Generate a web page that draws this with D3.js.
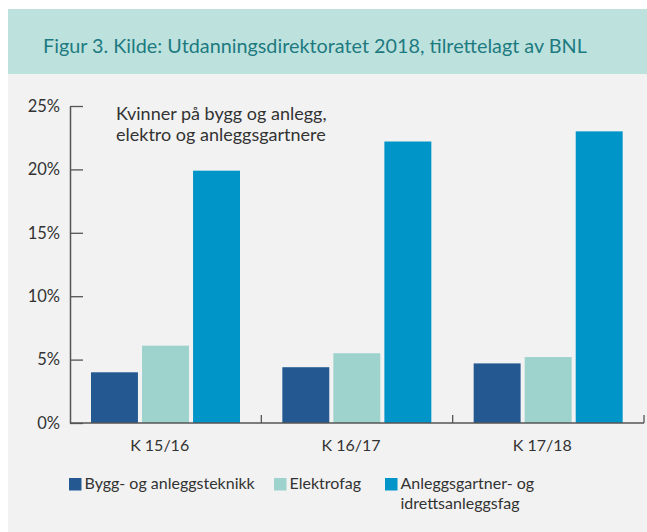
<!DOCTYPE html>
<html>
<head>
<meta charset="utf-8">
<script src="https://cdn.jsdelivr.net/npm/d3@7"></script>
<style>
  body { margin: 0; background: #fff; }
  svg { display: block; font-family: Lato, "Noto Sans", sans-serif; }
</style>
</head>
<body>
<svg id="svg"></svg>
<script>
var width = 647,
    height = 532;

// data
var periods = ["K 15/16", "K 16/17", "K 17/18"];
var seriesNames = ["Bygg- og anleggsteknikk", "Elektrofag", "Anleggsgartner- og idrettsanleggsfag"];
var bygg = [0.040, 0.044, 0.047];
var elektro = [0.061, 0.055, 0.052];
var anleggsgartner = [0.199, 0.222, 0.230];
var yTicks = [0, 0.05, 0.10, 0.15, 0.20, 0.25];

var colors = ["#245891", "#9dd2cd", "#0095c8"];

var svg = d3.select("#svg")
    .attr("width", width)
    .attr("height", height);

// backgrounds
svg.append("rect")
    .attr("x", 8).attr("y", 74)
    .attr("width", width - 8).attr("height", height - 74)
    .attr("fill", "#f2f2f2");

svg.append("rect")
    .attr("x", 8).attr("y", 9)
    .attr("width", width - 8).attr("height", 65)
    .attr("fill", "#bde2de");

svg.append("text")
    .attr("x", 43).attr("y", 53)
    .attr("fill", "#1d7a80")
    .style("font-size", "19.8px")
    .text("Figur 3. Kilde: Utdanningsdirektoratet 2018, tilrettelagt av BNL");

var table = periods.map(function(p, i) {
  return { period: p, values: [bygg[i], elektro[i], anleggsgartner[i]] };
});

var x0 = d3.scaleBand()
    .domain(periods)
    .range([70, 644])
    .paddingInner(0)
    .paddingOuter(0);

var x1 = d3.scaleBand()
    .domain(d3.range(seriesNames.length))
    .range([21, 170])
    .paddingInner(0.08);

var y = d3.scaleLinear()
    .domain([0, 0.25])
    .range([423, 106]);

// bars
var groups = svg.append("g")
    .selectAll("g")
    .data(table)
    .enter().append("g")
      .attr("transform", function(d) { return "translate(" + x0(d.period) + ",0)"; });

groups.selectAll("rect")
    .data(function(d) { return d.values; })
    .enter().append("rect")
      .attr("x", function(d, i) { return x1(i); })
      .attr("width", x1.bandwidth())
      .attr("y", function(d) { return y(d); })
      .attr("height", function(d) { return y(0) - y(d); })
      .attr("fill", function(d, i) { return colors[i]; });

// y axis
var yAxis = svg.append("g")
    .attr("transform", "translate(70,0)")
    .call(d3.axisLeft(y)
      .tickValues(yTicks)
      .tickFormat(d3.format(".0%"))
      .tickSize(-13)
      .tickSizeOuter(0)
      .tickPadding(10));

yAxis.select(".domain").attr("stroke", "#555").attr("stroke-width", 1.5);
yAxis.selectAll(".tick line").attr("stroke", "#555").attr("stroke-width", 1.3);
yAxis.selectAll(".tick text")
    .attr("fill", "#333")
    .style("font-size", "16.5px")
    .style("font-family", "Lato, sans-serif");

// x axis baseline and boundary ticks
svg.append("line")
    .attr("x1", x0.range()[0]).attr("x2", x0.range()[1])
    .attr("y1", y(0)).attr("y2", y(0))
    .attr("stroke", "#555").attr("stroke-width", 1.5);

svg.append("g")
    .selectAll("line")
    .data(periods)
    .enter().append("line")
      .attr("x1", function(d) { return x0(d) + x0.bandwidth(); })
      .attr("x2", function(d) { return x0(d) + x0.bandwidth(); })
      .attr("y1", y(0))
      .attr("y2", y(0) - 8)
      .attr("stroke", "#555").attr("stroke-width", 1.3);

var xAxis = svg.append("g")
    .attr("transform", "translate(-6," + y(0) + ")")
    .call(d3.axisBottom(x0).tickSize(0).tickPadding(17));
xAxis.select(".domain").remove();
xAxis.selectAll(".tick text")
    .attr("fill", "#333")
    .style("font-size", "16px")
    .style("font-family", "Lato, sans-serif");

// annotation
var note = svg.append("text")
    .attr("x", 116).attr("y", 120)
    .attr("fill", "#333")
    .style("font-size", "18px");
note.append("tspan").attr("x", 116).attr("dy", 0).text("Kvinner på bygg og anlegg,");
note.append("tspan").attr("x", 116).attr("dy", 20.5).text("elektro og anleggsgartnere");

// legend
var legendX = [69, 274, 385];
var legendLines = [["Bygg- og anleggsteknikk"], ["Elektrofag"], ["Anleggsgartner- og", "idrettsanleggsfag"]];

var legend = svg.append("g")
    .selectAll("g")
    .data(seriesNames)
    .enter().append("g")
      .attr("transform", function(d, i) { return "translate(" + legendX[i] + ",478)"; });

legend.append("rect")
    .attr("width", 12.5)
    .attr("height", 12.5)
    .attr("fill", function(d, i) { return colors[i]; });

legend.append("text")
    .attr("fill", "#333")
    .style("font-size", "16px")
    .attr("y", 11)
    .selectAll("tspan")
    .data(function(d, i) { return legendLines[i]; })
    .enter().append("tspan")
      .attr("x", 15.5)
      .attr("dy", function(d, j) { return j === 0 ? 0 : 19.5; })
      .text(function(d) { return d; });
</script>
</body>
</html>
